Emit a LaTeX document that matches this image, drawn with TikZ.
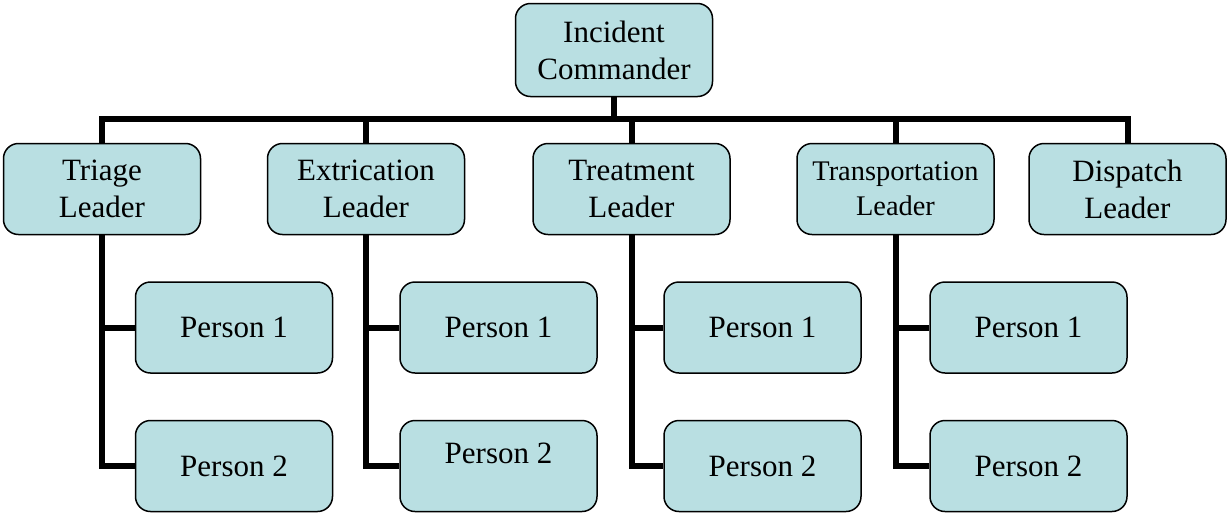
\documentclass[tikz,border=0pt]{standalone}
\usepackage{fontspec}
\setmainfont{Liberation Serif}
\definecolor{boxfill}{HTML}{B9DFE2}
\begin{document}
\begin{tikzpicture}[x=0.5pt,y=-0.5pt,
  box/.style={draw=black, line width=0.75pt, fill=boxfill, rounded corners=7.5pt,
    minimum width=98.5pt, minimum height=45.5pt, inner sep=0pt, align=center,
    font=\fontsize{15.5pt}{18.5pt}\selectfont},
  smalltext/.style={font=\fontsize{14.2pt}{17.5pt}\selectfont},
  conn/.style={line width=3pt, draw=black}]
\useasboundingbox (0,0) rectangle (1228,515);
% top
\node[box, minimum height=46.5pt] (cmd) at (614,50) {Incident\\Commander};
% leaders
\node[box] (tri) at (102,189) {Triage\\Leader};
\node[box] (ext) at (366,189) {Extrication\\Leader};
\node[box] (trt) at (631.5,189) {Treatment\\Leader};
\node[box, smalltext] (trn) at (895.5,189) {Transportation\\Leader};
\node[box] (dsp) at (1127.5,189) {Dispatch\\Leader};
% persons
\node[box] (tri1) at (234,327.5) {Person 1};
\node[box] (tri2) at (234,466) {Person 2};
\node[box] (ext1) at (498.5,327.5) {Person 1};
\node[box] (ext2) at (498.5,466) {\raisebox{6.5pt}[\height][\depth]{Person 2}};
\node[box] (trt1) at (762.5,327.5) {Person 1};
\node[box] (trt2) at (762.5,466) {Person 2};
\node[box] (trn1) at (1028.5,327.5) {Person 1};
\node[box] (trn2) at (1028.5,466) {Person 2};
% bar
\coordinate (bar) at (614,118.5);
\draw[conn] (cmd.south) -- (cmd.south |- bar);
\draw[conn] (tri.north) -- (tri.north |- bar) -- (dsp.north |- bar) -- (dsp.north);
\draw[conn] (ext.north) -- (ext.north |- bar);
\draw[conn] (trt.north) -- (trt.north |- bar);
\draw[conn] (trn.north) -- (trn.north |- bar);
% person connectors
\foreach \l/\p/\q in {tri/tri1/tri2, ext/ext1/ext2, trt/trt1/trt2, trn/trn1/trn2}{
  \draw[conn] (\l.south) -- (\l.south |- \q.west) -- (\q.west);
  \draw[conn] (\p.west) -- (\p.west -| \l.south);
}
\end{tikzpicture}
\end{document}
